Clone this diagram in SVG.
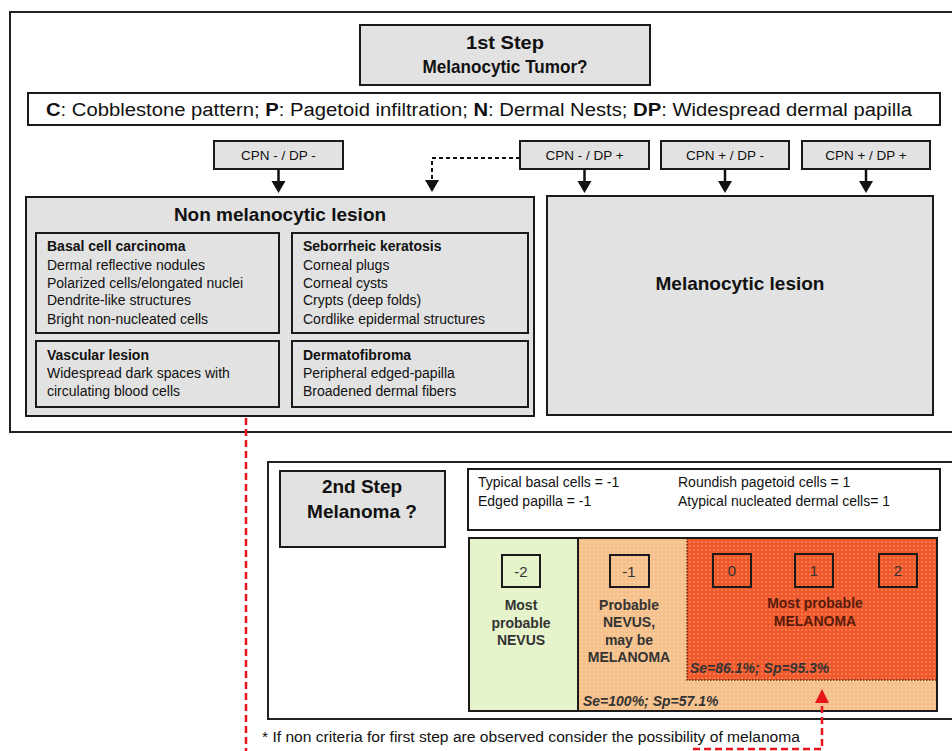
<svg xmlns="http://www.w3.org/2000/svg" width="952" height="751" viewBox="0 0 952 751">
<style>
text{font-family:"Liberation Sans",Arial,sans-serif;fill:#111}
.frame{fill:#fff;stroke:#222;stroke-width:2}
.gbox{fill:#e2e2e2;stroke:#1a1a1a;stroke-width:2}
.wbox{fill:#fff;stroke:#1a1a1a;stroke-width:2}
.ibox{fill:none;stroke:#1a1a1a;stroke-width:2}
.hd{font-weight:bold;text-anchor:middle}
.cpn{font-size:13.5px;text-anchor:middle}
.it{font-size:14px}
.itb{font-size:14px;font-weight:bold}
.crit{font-size:14px}
.sc{font-size:14px;font-weight:bold;text-anchor:middle;fill:#333}
.num{font-size:15px;text-anchor:middle;fill:#333}
.se{font-size:14px;font-weight:bold;font-style:italic;fill:#333}
.blk{stroke:#111;stroke-width:2.5;fill:none}
.red{stroke:#e8141c;stroke-width:2.5;fill:none;stroke-dasharray:7,4}
</style>
<defs>
<pattern id="dots" width="4" height="4" patternUnits="userSpaceOnUse">
<circle cx="2" cy="2" r="0.7" fill="#fff" fill-opacity="0.55"/>
</pattern>
</defs>

<g id="step1-frame"><rect class="frame" x="10" y="12" width="950" height="420"/></g>

<g id="step1-title">
<rect class="gbox" x="360" y="25" width="290" height="60"/>
<text class="hd" x="505" y="49" font-size="19" textLength="78" lengthAdjust="spacingAndGlyphs">1st Step</text>
<text class="hd" x="505" y="73" font-size="19" textLength="165" lengthAdjust="spacingAndGlyphs">Melanocytic Tumor?</text>
</g>

<g id="legend">
<rect class="wbox" x="28" y="93" width="912" height="32"/>
<text x="46" y="116" font-size="18" textLength="866" lengthAdjust="spacingAndGlyphs"><tspan font-weight="bold">C</tspan>: Cobblestone pattern; <tspan font-weight="bold">P</tspan>: Pagetoid infiltration; <tspan font-weight="bold">N</tspan>: Dermal Nests; <tspan font-weight="bold">DP</tspan>: Widespread dermal papilla</text>
</g>

<g id="cpn1"><rect class="gbox" x="214" y="141" width="129" height="28"/><text class="cpn" x="278.5" y="160">CPN - / DP -</text></g>
<g id="cpn2"><rect class="gbox" x="520" y="141" width="129" height="28"/><text class="cpn" x="584.5" y="160">CPN - / DP +</text></g>
<g id="cpn3"><rect class="gbox" x="661" y="141" width="128" height="28"/><text class="cpn" x="725" y="160">CPN + / DP -</text></g>
<g id="cpn4"><rect class="gbox" x="802" y="141" width="128" height="28"/><text class="cpn" x="866" y="160">CPN + / DP +</text></g>

<g id="non-melanocytic">
<rect class="gbox" x="26" y="197" width="508" height="219"/>
<text class="hd" x="280" y="221" font-size="19">Non melanocytic lesion</text>
<rect class="ibox" x="36" y="233" width="243" height="100"/>
<text class="itb" x="47" y="251">Basal cell carcinoma</text>
<text class="it" x="47" y="270">Dermal reflective nodules</text>
<text class="it" x="47" y="288">Polarized cells/elongated nuclei</text>
<text class="it" x="47" y="305">Dendrite-like structures</text>
<text class="it" x="47" y="324">Bright non-nucleated cells</text>
<rect class="ibox" x="292" y="233" width="236" height="100"/>
<text class="itb" x="303" y="251">Seborrheic keratosis</text>
<text class="it" x="303" y="270">Corneal plugs</text>
<text class="it" x="303" y="288">Corneal cysts</text>
<text class="it" x="303" y="305">Crypts (deep folds)</text>
<text class="it" x="303" y="324">Cordlike epidermal structures</text>
<rect class="ibox" x="36" y="341" width="243" height="66"/>
<text class="itb" x="47" y="360">Vascular lesion</text>
<text class="it" x="47" y="378">Widespread dark spaces with</text>
<text class="it" x="47" y="396">circulating blood cells</text>
<rect class="ibox" x="292" y="341" width="236" height="66"/>
<text class="itb" x="303" y="360">Dermatofibroma</text>
<text class="it" x="303" y="378">Peripheral edged-papilla</text>
<text class="it" x="303" y="396">Broadened dermal fibers</text>
</g>

<g id="melanocytic">
<rect class="gbox" x="547" y="196" width="386" height="219"/>
<text class="hd" x="740" y="290" font-size="19">Melanocytic lesion</text>
</g>

<g id="step2-frame"><rect class="frame" x="268" y="462" width="700" height="257"/></g>

<g id="step2-title">
<rect class="gbox" x="280" y="471" width="165" height="76"/>
<text class="hd" x="362" y="493" font-size="19">2nd Step</text>
<text class="hd" x="362" y="518" font-size="19">Melanoma ?</text>
</g>

<g id="criteria">
<rect class="wbox" x="468" y="469" width="472" height="61"/>
<text class="crit" x="478" y="487">Typical basal cells = -1</text>
<text class="crit" x="478" y="506">Edged papilla = -1</text>
<text class="crit" x="678" y="487">Roundish pagetoid cells = 1</text>
<text class="crit" x="678" y="506">Atypical nucleated dermal cells= 1</text>
</g>

<g id="score">
<rect x="469" y="538" width="109" height="173" fill="#e4f3c8"/>
<rect x="469" y="538" width="109" height="173" fill="url(#dots)"/>
<rect x="578" y="538" width="359" height="173" fill="#f6c08a"/>
<rect x="578" y="538" width="359" height="173" fill="url(#dots)"/>
<rect x="687" y="538" width="250" height="142" fill="#f0582a"/>
<rect x="687" y="538" width="250" height="142" fill="url(#dots)"/>
<path d="M687,538 V680 H937" fill="none" stroke="#5a2a10" stroke-width="1.5" stroke-dasharray="1.5,1.5"/>
<line x1="578" y1="538" x2="578" y2="711" stroke="#1a1a1a" stroke-width="2"/>
<rect class="ibox" x="469" y="538" width="468" height="173"/>
<rect class="ibox" x="502" y="555" width="38" height="32"/><text class="num" x="521" y="577">-2</text>
<rect class="ibox" x="610" y="555" width="39" height="32"/><text class="num" x="629" y="577">-1</text>
<rect class="ibox" x="713" y="554" width="38" height="33"/><text class="num" x="732" y="576">0</text>
<rect class="ibox" x="795" y="554" width="38" height="33"/><text class="num" x="814" y="576">1</text>
<rect class="ibox" x="879" y="554" width="38" height="33"/><text class="num" x="898" y="576">2</text>
<text class="sc" x="521" y="610">Most</text>
<text class="sc" x="521" y="628">probable</text>
<text class="sc" x="521" y="645">NEVUS</text>
<text class="sc" x="629" y="610">Probable</text>
<text class="sc" x="629" y="627">NEVUS,</text>
<text class="sc" x="629" y="645">may be</text>
<text class="sc" x="629" y="662">MELANOMA</text>
<text class="sc" x="815" y="608" style="fill:#5a1a08">Most probable</text>
<text class="sc" x="815" y="626" style="fill:#5a1a08">MELANOMA</text>
<text class="se" x="690" y="673">Se=86.1%; Sp=95.3%</text>
<text class="se" x="583" y="706">Se=100%; Sp=57.1%</text>
</g>

<g id="footnote"><text class="crit" x="262" y="742" font-size="13" textLength="538" lengthAdjust="spacingAndGlyphs">* If non criteria for first step are observed consider the possibility of melanoma</text></g>

<g id="connectors">
<line class="blk" x1="278.5" y1="169" x2="278.5" y2="182"/>
<polygon points="271.5,181 285.5,181 278.5,193" fill="#111"/>
<line class="blk" x1="584.5" y1="169" x2="584.5" y2="182"/>
<polygon points="577.5,181 591.5,181 584.5,193" fill="#111"/>
<line class="blk" x1="725" y1="169" x2="725" y2="182"/>
<polygon points="718,181 732,181 725,193" fill="#111"/>
<line class="blk" x1="866" y1="169" x2="866" y2="182"/>
<polygon points="859,181 873,181 866,193" fill="#111"/>
<path d="M520,158 H432 V182" fill="none" stroke="#111" stroke-width="2" stroke-dasharray="4,3"/>
<polygon points="425,180 439,180 432,192" fill="#111"/>
<path class="red" d="M246,418 V751"/>
<path class="red" d="M693,749 H822 V702"/>
<polygon points="815,703 829,703 822,689" fill="#e8141c"/>
</g>
</svg>
